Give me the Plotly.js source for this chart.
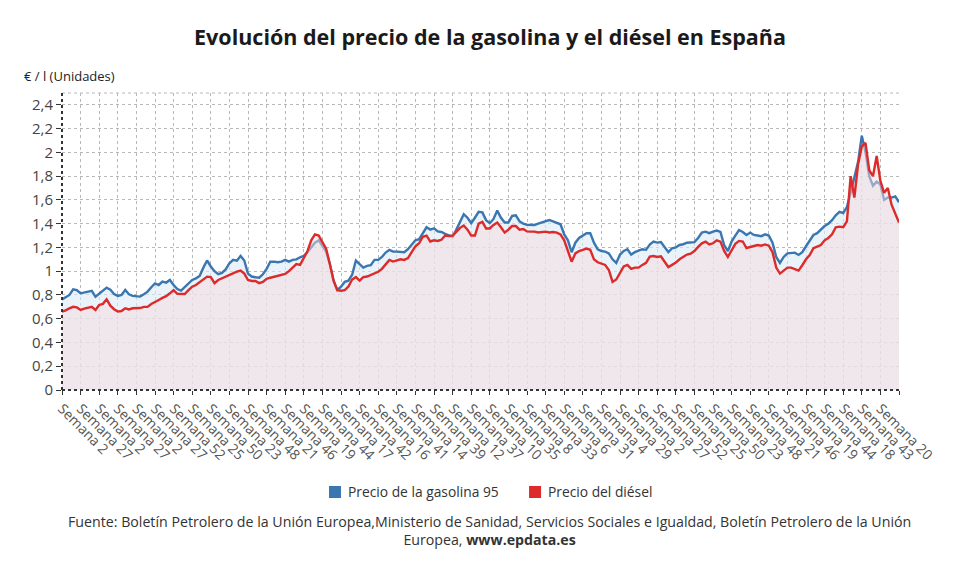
<!DOCTYPE html>
<html>
<head>
<meta charset="utf-8">
<script src="https://cdn.plot.ly/plotly-3.0.1.min.js"></script>
<style>
  html, body { margin: 0; padding: 0; background: #fff; }
  #chart { width: 980px; height: 575px; }
</style>
</head>
<body>
<div id="chart"></div>
<script>
// one reading every 5 weeks
const STEP_WEEKS = 5;

const gasolina95 = [
    0.763, 0.78, 0.80, 0.848, 0.84, 0.814, 0.82, 0.828, 0.835, 0.786,
    0.81, 0.836, 0.862, 0.845, 0.808, 0.792, 0.80, 0.842, 0.806, 0.792,
    0.792, 0.786, 0.806, 0.828, 0.865, 0.898, 0.884, 0.912, 0.904, 0.926,
    0.884, 0.85, 0.836, 0.865, 0.898, 0.926, 0.94, 0.96, 1.03, 1.09,
    1.04, 1.0, 0.975, 0.985, 1.015, 1.067, 1.095, 1.089, 1.128, 1.09,
    0.98, 0.955, 0.949, 0.945, 0.974, 1.02, 1.08, 1.081, 1.075, 1.08,
    1.095, 1.081, 1.095, 1.10, 1.117, 1.13, 1.16, 1.20, 1.24, 1.26,
    1.21, 1.165, 1.06, 0.92, 0.84, 0.87, 0.91, 0.92, 0.97, 1.09,
    1.06, 1.03, 1.045, 1.05, 1.095, 1.095, 1.12, 1.157, 1.18, 1.165,
    1.165, 1.16, 1.16, 1.185, 1.22, 1.26, 1.27, 1.315, 1.37, 1.35,
    1.36, 1.335, 1.33, 1.315, 1.30, 1.29, 1.35, 1.42, 1.48, 1.45,
    1.404, 1.45, 1.50, 1.495, 1.43, 1.404, 1.44, 1.51, 1.45, 1.41,
    1.41, 1.465, 1.47, 1.42, 1.40, 1.39, 1.39, 1.389, 1.40, 1.41,
    1.425, 1.43, 1.42, 1.404, 1.395, 1.31, 1.26, 1.16, 1.24, 1.28,
    1.30, 1.32, 1.32, 1.24, 1.185, 1.17, 1.165, 1.15, 1.10, 1.07,
    1.14, 1.17, 1.185, 1.14, 1.16, 1.173, 1.185, 1.18, 1.225, 1.249,
    1.241, 1.245, 1.20, 1.16, 1.193, 1.20, 1.221, 1.227, 1.24, 1.245,
    1.245, 1.28, 1.325, 1.333, 1.32, 1.333, 1.342, 1.33, 1.22, 1.17,
    1.25, 1.30, 1.347, 1.33, 1.305, 1.325, 1.305, 1.30, 1.295, 1.31,
    1.30, 1.24, 1.12, 1.07, 1.12, 1.15, 1.15, 1.156, 1.137, 1.16,
    1.21, 1.26, 1.305, 1.32, 1.35, 1.38, 1.40, 1.43, 1.47, 1.50,
    1.49, 1.54, 1.66, 1.78, 1.92, 2.14, 2.00, 1.80, 1.72, 1.754,
    1.73, 1.60, 1.62, 1.62, 1.63, 1.58
];

const diesel = [
    0.66, 0.67, 0.688, 0.70, 0.695, 0.674, 0.685, 0.69, 0.70, 0.674,
    0.716, 0.725, 0.763, 0.71, 0.68, 0.66, 0.665, 0.688, 0.678, 0.688,
    0.688, 0.69, 0.70, 0.70, 0.724, 0.744, 0.758, 0.775, 0.79, 0.814,
    0.84, 0.81, 0.806, 0.808, 0.84, 0.87, 0.884, 0.905, 0.93, 0.954,
    0.95, 0.90, 0.926, 0.94, 0.955, 0.97, 0.985, 0.996, 1.005, 0.98,
    0.926, 0.918, 0.918, 0.90, 0.91, 0.935, 0.945, 0.954, 0.962, 0.97,
    0.977, 1.0, 1.03, 1.06, 1.053, 1.11, 1.17, 1.26, 1.31, 1.30,
    1.25, 1.19, 1.06, 0.92, 0.84, 0.835, 0.84, 0.87, 0.93, 0.95,
    0.92, 0.95, 0.955, 0.968, 0.98, 0.995, 1.02, 1.06, 1.095, 1.081,
    1.09, 1.10, 1.095, 1.11, 1.16, 1.21, 1.235, 1.29, 1.30, 1.25,
    1.26, 1.255, 1.265, 1.30, 1.295, 1.30, 1.33, 1.365, 1.385, 1.35,
    1.30, 1.30, 1.40, 1.415, 1.36, 1.36, 1.39, 1.41, 1.37, 1.325,
    1.35, 1.38, 1.38, 1.35, 1.355, 1.335, 1.333, 1.333, 1.326, 1.33,
    1.333, 1.326, 1.33, 1.325, 1.31, 1.26, 1.17, 1.08, 1.15, 1.17,
    1.18, 1.19, 1.18, 1.10, 1.075, 1.067, 1.053, 1.01, 0.91, 0.93,
    0.98, 1.04, 1.053, 1.02, 1.03, 1.03, 1.053, 1.07, 1.123, 1.128,
    1.12, 1.125, 1.08, 1.035, 1.053, 1.072, 1.10, 1.123, 1.14, 1.148,
    1.17, 1.205, 1.235, 1.249, 1.225, 1.235, 1.26, 1.249, 1.17, 1.12,
    1.175, 1.23, 1.255, 1.25, 1.195, 1.205, 1.21, 1.22, 1.215, 1.225,
    1.215, 1.16, 1.03, 0.98, 1.005, 1.03, 1.03, 1.02, 1.005, 1.05,
    1.10, 1.135, 1.193, 1.207, 1.22, 1.26, 1.28, 1.31, 1.37, 1.375,
    1.37, 1.42, 1.80, 1.62, 1.90, 2.05, 2.08, 1.85, 1.80, 1.97,
    1.76, 1.66, 1.70, 1.56, 1.49, 1.41
];

// a label every 25 weeks
const TICK_EVERY = 25;
const tickWeeks = [2, 27, 2, 27, 2, 27, 52, 25, 50, 23, 48, 21, 46, 19, 44, 17, 42, 16, 41, 14,
    39, 12, 37, 10, 35, 8, 33, 6, 31, 4, 29, 2, 27, 52, 25, 50, 23, 48, 21, 46,
    19, 44, 18, 43, 20];

const seriesNames = ["Precio de la gasolina 95", "Precio del diésel"];
const COLORS = { gasolina: "#3a76b0", diesel: "#dd2a2a", text: "#444" };

(() => {
    const weeks = gasolina95.map((_, i) => i * STEP_WEEKS);
    const lastWeek = weeks[weeks.length - 1];

    // one extra gridline closes the plot on the right, it has no label
    const tickvals = [];
    const ticktext = [];
    for (let i = 0; i * TICK_EVERY <= lastWeek; i++) {
        tickvals.push(i * TICK_EVERY);
        ticktext.push(i < tickWeeks.length ? "Semana " + tickWeeks[i] : "");
    }

    const traces = [
        {
            x: weeks, y: gasolina95, mode: "lines", name: seriesNames[0],
            line: { color: COLORS.gasolina, width: 2.4 },
            fill: "tozeroy", fillcolor: "rgba(220,235,247,0.6)",
        },
        {
            x: weeks, y: diesel, mode: "lines", name: seriesNames[1],
            line: { color: COLORS.diesel, width: 2.4 },
            fill: "tozeroy", fillcolor: "rgba(246,219,222,0.5)",
        },
    ];

    // legend drawn by hand: square swatch + label, below the axis labels
    const legendItems = [
        { name: seriesNames[0], color: COLORS.gasolina, x: 0.319 },
        { name: seriesNames[1], color: COLORS.diesel, x: 0.558 },
    ];
    const SW = 12 / 837;
    const legendShapes = legendItems.map((it) => ({
        type: "rect", xref: "paper", yref: "paper",
        x0: it.x, x1: it.x + SW, y0: -0.3636, y1: -0.3232,
        fillcolor: it.color, line: { width: 0 },
    }));
    const legendLabels = legendItems.map((it) => ({
        text: it.name, xref: "paper", yref: "paper",
        x: it.x + SW + 0.006, y: -0.3434, xanchor: "left", yanchor: "middle",
        showarrow: false, font: { size: 13.8, color: "#333" },
    }));

    const layout = {
        width: 980, height: 575,
        margin: { t: 93, r: 81, b: 185, l: 62 },
        paper_bgcolor: "#fff",
        plot_bgcolor: "#fff",
        separators: ",.",
        showlegend: false,
        font: { family: "Open Sans, sans-serif", color: COLORS.text, size: 13 },
        title: {
            text: "<b>Evolución del precio de la gasolina y el diésel en España</b>",
            x: 0.5, xanchor: "center", y: 0.934, yanchor: "middle",
            font: { size: 21.5, color: "#1a1a1a" },
        },
        xaxis: {
            range: [0, lastWeek],
            tickmode: "array", tickvals, ticktext,
            tickangle: 45,
            ticks: "outside", ticklen: 4, tickcolor: "#333",
            tickfont: { size: 14, color: "#555" },
            showgrid: true, gridcolor: "#b8b8b8", griddash: "dot", gridwidth: 1,
            zeroline: false, showline: false,
        },
        yaxis: {
            range: [0, 2.5],
            tick0: 0, dtick: 0.2,
            ticks: "outside", ticklen: 5, tickcolor: "#333",
            tickfont: { size: 15, color: "#444" },
            showgrid: true, gridcolor: "#b8b8b8", griddash: "dot", gridwidth: 1,
            zeroline: false, showline: false,
        },
        shapes: [
            { type: "line", xref: "paper", yref: "paper", x0: 0, x1: 1, y0: 1, y1: 1,
              line: { color: "#b8b8b8", width: 1, dash: "dot" } },
            { type: "line", xref: "paper", yref: "paper", x0: 0, x1: 0, y0: 0, y1: 1,
              line: { color: "#333", width: 2, dash: "dot" } },
            { type: "line", xref: "paper", yref: "paper", x0: 0, x1: 1, y0: 0, y1: 0,
              line: { color: "#333", width: 2, dash: "dot" } },
            ...legendShapes,
        ],
        annotations: [
            {
                text: "€ / l (Unidades)", xref: "paper", yref: "paper",
                x: -0.048, y: 1.057, xanchor: "left", yanchor: "middle",
                showarrow: false, font: { size: 13, color: "#222" },
            },
            ...legendLabels,
            {
                text: "Fuente: Boletín Petrolero de la Unión Europea,Ministerio de Sanidad, Servicios Sociales e Igualdad, Boletín Petrolero de la Unión<br>Europea, <b>www.epdata.es</b>",
                xref: "paper", yref: "paper", x: 0.511, y: -0.405, xanchor: "center", yanchor: "top",
                align: "center", showarrow: false, font: { size: 14.2, color: "#333" },
            },
        ],
    };

    Plotly.newPlot("chart", traces, layout, { displayModeBar: false, staticPlot: true });
})();
</script>
</body>
</html>
